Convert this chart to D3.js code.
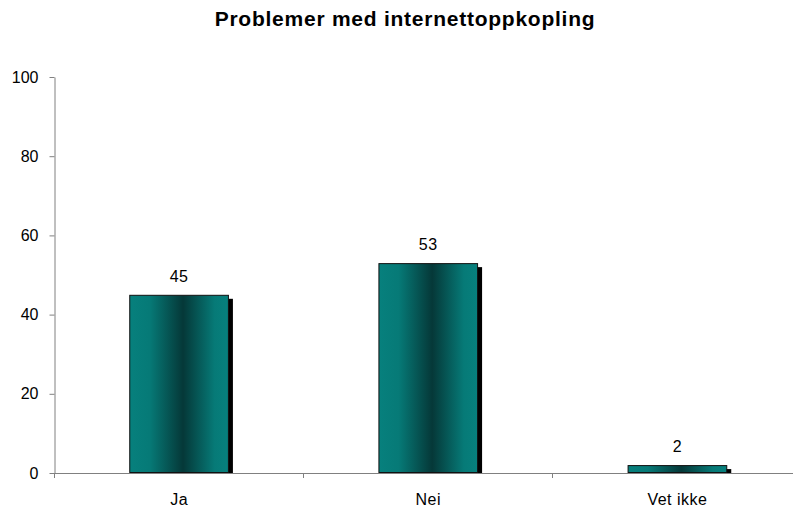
<!DOCTYPE html>
<html>
<head>
<meta charset="utf-8">
<script src="https://cdn.jsdelivr.net/npm/d3@7"></script>
<style>
  html, body { margin: 0; padding: 0; background: #fff; }
  svg { display: block; font-family: "Liberation Sans", Arial, sans-serif; }
</style>
</head>
<body>
<svg id="chart" width="793" height="510"></svg>
<script>
const title = "Problemer med internettoppkopling";
const categories = ["Ja", "Nei", "Vet ikke"];
const values = [45, 53, 2];
const yTicks = [0, 20, 40, 60, 80, 100];

const svg = d3.select("#chart");
const margin = { left: 54.5, top: 77, bottom: 473 };
const plotRight = 802;

const x = d3.scaleBand().domain(categories).range([margin.left, plotRight]).padding(0);
const y = d3.scaleLinear().domain([0, 100]).range([margin.bottom, margin.top]);

const defs = svg.append("defs");
const grad = defs.append("linearGradient").attr("id", "barGrad")
  .attr("x1", "0%").attr("x2", "100%").attr("y1", "0%").attr("y2", "0%");
grad.append("stop").attr("offset", "0%").attr("stop-color", "#07807d");
grad.append("stop").attr("offset", "20%").attr("stop-color", "#067a77");
grad.append("stop").attr("offset", "54%").attr("stop-color", "#053838");
grad.append("stop").attr("offset", "86%").attr("stop-color", "#067a77");
grad.append("stop").attr("offset", "100%").attr("stop-color", "#07807d");

// title
svg.append("text")
  .attr("x", 405).attr("y", 26)
  .attr("text-anchor", "middle")
  .attr("font-weight", "bold")
  .attr("font-size", 21)
  .attr("letter-spacing", 0.75)
  .attr("fill", "#000")
  .text(title);

const barW = x.bandwidth() * 0.4;
const bx = d => x(d) + (x.bandwidth() - barW) / 2;

const data = categories.map((c, i) => ({ c, v: values[i] }));

// shadows
svg.append("g").selectAll("rect").data(data).join("rect")
  .attr("x", d => bx(d.c) + 4)
  .attr("y", d => y(d.v) + 4)
  .attr("width", barW)
  .attr("height", d => y(0) - y(d.v) - 3)
  .attr("fill", "#000");

// bars
svg.append("g").selectAll("rect").data(data).join("rect")
  .attr("x", d => bx(d.c) + 0.5)
  .attr("y", d => y(d.v) + 0.5)
  .attr("width", barW - 1)
  .attr("height", d => y(0) - y(d.v) - 1)
  .attr("fill", "url(#barGrad)")
  .attr("stroke", "#111")
  .attr("stroke-width", 1);

// value labels
svg.append("g").selectAll("text").data(data).join("text")
  .attr("x", d => x(d.c) + x.bandwidth() / 2)
  .attr("y", d => y(d.v) - 13)
  .attr("text-anchor", "middle")
  .attr("font-size", 16)
  .attr("letter-spacing", 0.5)
  .attr("fill", "#000")
  .text(d => d.v);

// y axis
const yAxis = svg.append("g")
  .attr("transform", `translate(${margin.left},0)`)
  .call(d3.axisLeft(y).tickValues(yTicks).tickSize(5).tickPadding(11).tickSizeOuter(0));
yAxis.select(".domain").attr("stroke", "#808080");
yAxis.selectAll(".tick line").attr("stroke", "#808080");
yAxis.selectAll(".tick text").attr("font-size", 16).attr("fill", "#000")
  .attr("font-family", "Liberation Sans, Arial, sans-serif");

// x axis
const xAxis = svg.append("g")
  .attr("transform", `translate(0,${margin.bottom})`)
  .call(d3.axisBottom(x).tickSize(0).tickPadding(21).tickSizeOuter(0));
xAxis.select(".domain").attr("stroke", "#808080");
xAxis.selectAll(".tick text").attr("font-size", 16).attr("fill", "#000")
  .attr("letter-spacing", 0.5)
  .attr("font-family", "Liberation Sans, Arial, sans-serif");

// category separator ticks
const seps = categories.map(c => x(c));
svg.append("g").selectAll("line").data(seps).join("line")
  .attr("x1", d => Math.round(d - 0.5) + 0.5).attr("x2", d => Math.round(d - 0.5) + 0.5)
  .attr("y1", margin.bottom).attr("y2", margin.bottom + 5)
  .attr("stroke", "#808080");
</script>
</body>
</html>
